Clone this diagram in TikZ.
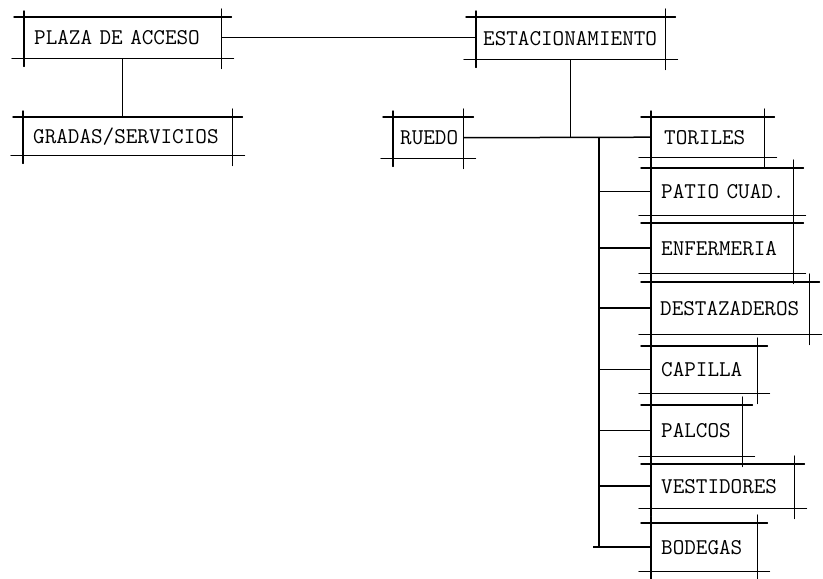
\documentclass[tikz,border=0pt]{standalone}
\usepackage{tikz}
\usetikzlibrary{positioning,calc}

% draws the four over-running edges of a box
\newcommand{\skbox}[1]{%
  \draw[edge] ([xshift=-10pt]#1.north west) -- ([xshift=10pt]#1.north east);
  \draw[edge] ([xshift=-12pt]#1.south west) -- ([xshift=12pt]#1.south east);
  \draw[edge] ([yshift=6pt]#1.north west) -- ([yshift=-8pt]#1.south west);
  \draw[edge] ([yshift=8pt]#1.north east) -- ([yshift=-10pt]#1.south east);
}

\begin{document}
\begin{tikzpicture}[
  x=1pt, y=-1pt,
  font=\ttfamily\fontsize{22.5}{23}\selectfont,
  bx/.style={
    anchor=north west, text width=#1-20pt, align=left,
    inner xsep=10pt, inner ysep=0pt, minimum height=40pt,
  },
  edge/.style={line width=1.5pt, line cap=round},
  link/.style={line width=1.5pt},
]
\useasboundingbox (0,0) rectangle (823,579);

% =================== top row ===================
\node[bx=197pt, minimum height=41pt] (plaza) at (24,17) {PLAZA DE ACCESO};
\node[bx=195pt, minimum height=42pt, inner xsep=7pt] (estac) at (476,17) {ESTACIONAMIENTO};
\node[bx=209pt, minimum height=38pt] (gradas) at (23,117) {GRADAS/SERVICIOS};
\node[bx=76pt, minimum height=41pt, inner xsep=7pt] (ruedo) at (393,117) {RUEDO};

% =================== right column ===================
\node[bx=107pt, minimum height=40pt, inner xsep=13pt] (toriles) at (651,117) {TORILES};
\node[bx=142pt, minimum height=47pt] (patio) at (651,168) {\mbox{PATIO CUAD.}};
\node[bx=142pt, minimum height=50pt] (enferm) at (651,223) {ENFERMERIA};
\node[bx=160pt, minimum height=52pt, inner xsep=9pt] (destaz) at (651,282) {DESTAZADEROS};
\node[bx=106pt, minimum height=47pt] (capilla) at (651,346) {CAPILLA};
\node[bx=91pt, minimum height=51pt] (palcos) at (651,405) {PALCOS};
\node[bx=143pt, minimum height=44pt] (vestid) at (651,464) {VESTIDORES};
\node[bx=106pt, minimum height=48pt] (bodegas) at (651,523) {BODEGAS};

\foreach \b in {plaza,estac,gradas,ruedo,toriles,patio,enferm,destaz,capilla,palcos,vestid,bodegas}
  {\skbox{\b}}

% =================== connectors ===================
\draw[link] (plaza.south) -- (plaza.south |- gradas.north);
\draw[link] (plaza.east) -- (plaza.east -| estac.west);
\draw[link] (estac.south) -- (estac.south |- ruedo.east);
\draw[link] (ruedo.east) -- (toriles.west);

\coordinate (trunk) at (599,0);
\draw[link] (trunk |- toriles.west) -- (trunk |- bodegas.west);
\draw[link] ([xshift=-6pt]trunk |- bodegas.west) -- (bodegas.west);
\foreach \b in {patio,enferm,destaz,capilla,palcos,vestid}
  \draw[link] (trunk |- \b.west) -- (\b.west);

\end{tikzpicture}
\end{document}
